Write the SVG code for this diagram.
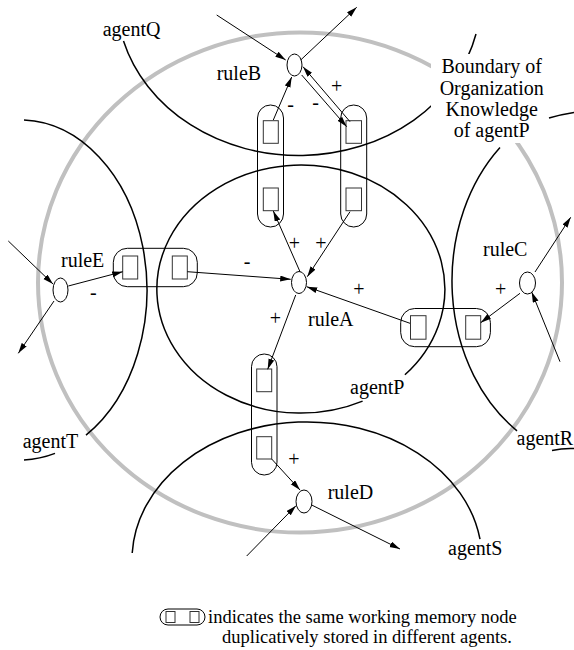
<svg xmlns="http://www.w3.org/2000/svg" width="574" height="650" viewBox="0 0 574 650">
<style>
text{font-family:"Liberation Serif","Times New Roman",serif;font-size:20px;fill:#000}
.agent{fill:none;stroke:#000;stroke-width:1.5}
.cap{fill:none;stroke:#000;stroke-width:1}
.box{fill:#fff;stroke:#333;stroke-width:1}
.rule{fill:#fff;stroke:#000;stroke-width:1}
.conn line{stroke:#000;stroke-width:1;marker-end:url(#ah)}
.sign{text-anchor:middle}
</style>
<defs>
<marker id="ah" markerUnits="userSpaceOnUse" markerWidth="11" markerHeight="7" refX="10.5" refY="3" orient="auto">
<path d="M0,0 L10.5,3 L0,6 z" fill="#000"/>
</marker>
</defs>
<rect width="574" height="650" fill="#fff"/>
<ellipse id="boundary-ring" cx="300" cy="282.5" rx="262" ry="250" fill="none" stroke="#c0c0c0" stroke-width="4"/>
<g id="agentQ">
<path class="agent" d="M123.5,41 A182 157 0 0 0 476,34"/>
<text x="102.7" y="36">agentQ</text>
</g>
<g id="agentP">
<path class="agent" d="M362.6,401.1 A144 124 0 1 1 404.9,374.8"/>
<text x="350" y="394">agentP</text>
</g>
<g id="agentT">
<path class="agent" d="M24,120.1 A127 170 0 0 1 86,435.2"/>
<path class="agent" d="M55,453.4 A127 170 0 0 1 24,459.9"/>
<text x="22.7" y="448">agentT</text>
</g>
<g id="agentR">
<path class="agent" d="M500,147.6 A146 180 0 0 0 517,430.8"/>
<path class="agent" d="M549,118 Q561,114.5 574,112.5"/>
<path class="agent" d="M552,450.5 Q563,448 574,448.5"/>
<text x="516.5" y="445">agentR</text>
</g>
<g id="agentS">
<path class="agent" d="M132.2,553 A175 138 0 0 1 480,539.2"/>
<text x="448" y="555">agentS</text>
</g>
<g id="boundary-label">
<rect x="431" y="54" width="117" height="89" fill="#fff"/>
<text x="491.7" y="73.3" text-anchor="middle">Boundary of</text>
<text x="491.7" y="95" text-anchor="middle">Organization</text>
<text x="491.7" y="116" text-anchor="middle">Knowledge</text>
<text x="491.7" y="137" text-anchor="middle">of agentP</text>
</g>
<g id="wm-B-left">
<rect class="cap" x="257.5" y="105" width="26" height="122" rx="13"/>
<rect class="box" x="263.3" y="120.7" width="15" height="22.6"/>
<rect class="box" x="263.3" y="188" width="15" height="22.7"/>
</g>
<g id="wm-B-right">
<rect class="cap" x="340.7" y="105" width="26" height="122" rx="13"/>
<rect class="box" x="346" y="120.7" width="15.5" height="22.6"/>
<rect class="box" x="346" y="188" width="15.5" height="22.7"/>
</g>
<g id="wm-D">
<rect class="cap" x="251.5" y="354" width="25.5" height="121" rx="12.7"/>
<rect class="box" x="256.7" y="369" width="15" height="22.7"/>
<rect class="box" x="256.7" y="436.7" width="15" height="22.3"/>
</g>
<g id="wm-E">
<rect class="cap" x="113.3" y="248.3" width="84" height="38.4" rx="14"/>
<rect class="box" x="122.7" y="256" width="15" height="23"/>
<rect class="box" x="172.3" y="256" width="15" height="23"/>
</g>
<g id="wm-C">
<rect class="cap" x="400.7" y="308.5" width="89.7" height="38.2" rx="14"/>
<rect class="box" x="410.5" y="315.7" width="15.5" height="23.5"/>
<rect class="box" x="465.7" y="315.7" width="15" height="23.5"/>
</g>
<g id="ruleB">
<ellipse class="rule" cx="294.5" cy="65" rx="7.5" ry="11"/>
<text x="216.7" y="80">ruleB</text>
</g>
<g id="ruleA">
<ellipse class="rule" cx="299" cy="282.5" rx="7.5" ry="11"/>
<text x="308" y="325.5">ruleA</text>
</g>
<g id="ruleE">
<ellipse class="rule" cx="60.5" cy="290" rx="7.5" ry="12"/>
<text x="61" y="266.5">ruleE</text>
</g>
<g id="ruleC">
<ellipse class="rule" cx="527.5" cy="283" rx="8" ry="11"/>
<text x="483" y="256">ruleC</text>
</g>
<g id="ruleD">
<ellipse class="rule" cx="304" cy="501.5" rx="8" ry="11.5"/>
<text x="327.7" y="499">ruleD</text>
</g>
<g id="connectors" class="conn">
<line x1="216.7" y1="15" x2="285.7" y2="60"/>
<line x1="300.7" y1="60" x2="356.7" y2="7.3"/>
<line x1="273.3" y1="120" x2="291.7" y2="77"/>
<line x1="301.7" y1="75" x2="346.7" y2="126.7"/>
<line x1="350" y1="121.7" x2="303" y2="66.7"/>
<line x1="300" y1="271.7" x2="273.3" y2="211"/>
<line x1="350" y1="211.7" x2="307.3" y2="276.7"/>
<line x1="187.3" y1="271.7" x2="290.7" y2="279.3"/>
<line x1="410" y1="323.3" x2="306.7" y2="286.7"/>
<line x1="295.7" y1="295" x2="267.7" y2="369.3"/>
<line x1="271.7" y1="459" x2="300" y2="490"/>
<line x1="246.7" y1="556" x2="296" y2="505.7"/>
<line x1="311.7" y1="505" x2="400" y2="549"/>
<line x1="8.3" y1="241" x2="53" y2="284"/>
<line x1="54" y1="301" x2="18.3" y2="353.3"/>
<line x1="68.3" y1="286" x2="122.7" y2="271.7"/>
<line x1="520" y1="293.3" x2="480.7" y2="322.7"/>
<line x1="535" y1="272" x2="570.7" y2="217.3"/>
<line x1="560" y1="361.7" x2="531.7" y2="292"/>
</g>
<g id="signs">
<text class="sign" x="290.5" y="111">-</text>
<text class="sign" x="315.5" y="109">-</text>
<text class="sign" x="336.7" y="93">+</text>
<text class="sign" x="294.5" y="249.5">+</text>
<text class="sign" x="321" y="249.5">+</text>
<text class="sign" x="247" y="267.5">-</text>
<text class="sign" x="359" y="296">+</text>
<text class="sign" x="275.3" y="325">+</text>
<text class="sign" x="294" y="466">+</text>
<text class="sign" x="93.3" y="298.5">-</text>
<text class="sign" x="500.7" y="296">+</text>
</g>
<g id="legend">
<rect class="cap" x="160" y="609" width="45" height="16" rx="8"/>
<rect class="box" x="166" y="611.5" width="9" height="11"/>
<rect class="box" x="190" y="611.5" width="9" height="11"/>
<text x="208" y="623" style="font-size:18.5px">indicates the same working memory node</text>
<text x="222" y="643" style="font-size:18.5px">duplicatively stored in different agents.</text>
</g>
</svg>
